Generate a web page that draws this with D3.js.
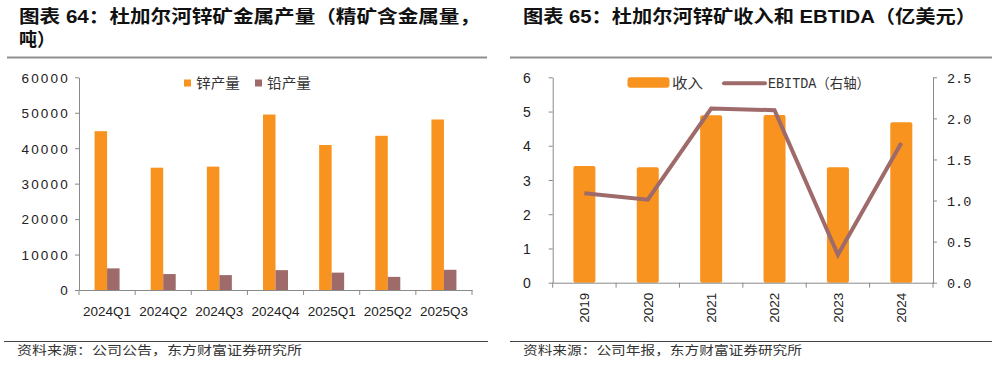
<!DOCTYPE html>
<html><head><meta charset="utf-8">
<script src="https://cdn.jsdelivr.net/npm/d3@7"></script>
<style>
html,body{margin:0;padding:0;background:#fff;}
svg{display:block;}
</style></head>
<body>
<svg id="c" width="997" height="365"></svg>
<script>
// ---------- data ----------
const quarters = ["2024Q1","2024Q2","2024Q3","2024Q4","2025Q1","2025Q2","2025Q3"];
const zincOutput = [44800, 34500, 34800, 49500, 40900, 43500, 48100];
const leadOutput = [6100, 4500, 4200, 5600, 4900, 3700, 5700];
const leftTicks = [0, 10000, 20000, 30000, 40000, 50000, 60000];
const leftSeriesNames = ["锌产量", "铅产量"];

const years = ["2019","2020","2021","2022","2023","2024"];
const revenue = [3.41, 3.37, 4.89, 4.90, 3.37, 4.69];
const ebitda = [1.09, 1.01, 2.12, 2.10, 0.34, 1.70];
const revTicks = [0,1,2,3,4,5,6];
const ebitdaTicks = [0,0.5,1.0,1.5,2.0,2.5];
const rightSeriesNames = ["收入", "EBITDA（右轴）"];

const title1a = "图表 64：杜加尔河锌矿金属产量（精矿含金属量，";
const title1b = "吨）";
const title2 = "图表 65：杜加尔河锌矿收入和 EBTIDA（亿美元）";
const source1 = "资料来源：公司公告，东方财富证券研究所";
const source2 = "资料来源：公司年报，东方财富证券研究所";

// ---------- styles ----------
const ORANGE = "#F7931E";
const BROWN = "#9E6A6A";
const AXIS = "#8a8a8a";
const svg = d3.select("#c");
const latin = "'Liberation Sans', Arial, 'Noto Sans CJK SC', sans-serif";
const cjk = "'Noto Sans CJK SC', sans-serif";

// ---------- titles ----------
function title(x, y, str, len){
  const t = svg.append("text").attr("x", x).attr("y", y).text(str)
    .attr("font-family", latin).attr("font-weight", 700).attr("font-size", 18).attr("fill", "#111");
  if (len) t.attr("textLength", len).attr("lengthAdjust", "spacingAndGlyphs");
}
title(19, 23, title1a, 461);
title(19, 46, title1b, null);
title(523, 23, title2, 453);
svg.append("line").attr("x1", 7).attr("x2", 487).attr("y1", 57.5).attr("y2", 57.5).attr("stroke", "#8f8f8f").attr("stroke-width", 2);
svg.append("line").attr("x1", 510).attr("x2", 992).attr("y1", 57.5).attr("y2", 57.5).attr("stroke", "#8f8f8f").attr("stroke-width", 2);

// footers
svg.append("line").attr("x1", 4).attr("x2", 488).attr("y1", 341.5).attr("y2", 341.5).attr("stroke", "#444").attr("stroke-width", 1);
svg.append("line").attr("x1", 510).attr("x2", 992).attr("y1", 341.5).attr("y2", 341.5).attr("stroke", "#444").attr("stroke-width", 1);
svg.append("text").attr("x", 17).attr("y", 355).text(source1).attr("font-family", cjk).attr("font-size", 12.5)
  .attr("fill", "#333").attr("textLength", 285).attr("lengthAdjust", "spacingAndGlyphs");
svg.append("text").attr("x", 523).attr("y", 355).text(source2).attr("font-family", cjk).attr("font-size", 12.5)
  .attr("fill", "#333").attr("textLength", 279).attr("lengthAdjust", "spacingAndGlyphs");

// ---------- left chart ----------
const L = {x0: 79, x1: 472, y0: 290, y1: 77.3};
const xL = d3.scaleBand().domain(quarters).range([L.x0, L.x1]);
const bwL = xL.bandwidth();
const xLs = d3.scaleBand().domain(["zinc","lead"]).range([bwL/2 - 12.5, bwL/2 + 12.5]);
const yL = d3.scaleLinear().domain([0, 60000]).range([L.y0, L.y1]);

const gL = svg.append("g");
gL.selectAll("rect.zinc").data(quarters).join("rect")
  .attr("x", d => xL(d) + xLs("zinc")).attr("width", xLs.bandwidth())
  .attr("y", (d,i) => yL(zincOutput[i])).attr("height", (d,i) => yL(0) - yL(zincOutput[i]))
  .attr("fill", ORANGE);
gL.selectAll("rect.lead").data(quarters).join("rect")
  .attr("x", d => xL(d) + xLs("lead")).attr("width", xLs.bandwidth())
  .attr("y", (d,i) => yL(leadOutput[i])).attr("height", (d,i) => yL(0) - yL(leadOutput[i]))
  .attr("fill", BROWN);

const yAxisL = gL.append("g").attr("transform", `translate(${L.x0},0)`)
  .call(d3.axisLeft(yL).tickValues(leftTicks).tickSize(4).tickSizeOuter(0).tickFormat(d3.format("d")));
yAxisL.select(".domain").attr("stroke", AXIS);
yAxisL.selectAll(".tick line").attr("stroke", AXIS);
yAxisL.selectAll(".tick text").attr("x", -9).attr("font-family", latin).attr("font-size", 13.5)
  .attr("fill", "#222").attr("letter-spacing", 2.2).attr("dy", "0.36em");

const xAxisL = gL.append("g").attr("transform", `translate(0,${L.y0})`)
  .call(d3.axisBottom(xL).tickSize(0).tickSizeOuter(0));
xAxisL.select(".domain").attr("stroke", AXIS);
xAxisL.selectAll(".tick text").attr("y", 16).attr("font-family", latin).attr("font-size", 13.5).attr("fill", "#222");
// boundary tick marks
gL.selectAll("line.bt").data(quarters.concat(["end"])).join("line")
  .attr("x1", (d,i) => i < quarters.length ? xL(d) : L.x1).attr("x2", (d,i) => i < quarters.length ? xL(d) : L.x1)
  .attr("y1", L.y0).attr("y2", L.y0 + 5).attr("stroke", AXIS);

// left legend
const legL = svg.append("g");
[[184, ORANGE, leftSeriesNames[0]], [255, BROWN, leftSeriesNames[1]]].forEach(([x, c, s]) => {
  legL.append("rect").attr("x", x).attr("y", 79.5).attr("width", 7).attr("height", 7).attr("fill", c);
  legL.append("text").attr("x", x + 12).attr("y", 88).text(s).attr("font-family", cjk).attr("font-size", 14)
    .attr("fill", "#333").attr("textLength", 44).attr("lengthAdjust", "spacingAndGlyphs");
});

// ---------- right chart ----------
const R = {x0: 552.7, x1: 933, y0: 282.7, y1: 77.3};
const xR = d3.scaleBand().domain(years).range([R.x0, R.x1]);
const bwR = xR.bandwidth();
const yR1 = d3.scaleLinear().domain([0, 6]).range([R.y0, R.y1]);
const yR2 = d3.scaleLinear().domain([0, 2.5]).range([R.y0, R.y1]);
const gR = svg.append("g");
const barW = 22;
gR.selectAll("rect.rev").data(years).join("rect")
  .attr("x", d => xR(d) + bwR/2 - barW/2).attr("width", barW)
  .attr("y", (d,i) => yR1(revenue[i])).attr("height", (d,i) => yR1(0) - yR1(revenue[i]))
  .attr("rx", 2).attr("fill", ORANGE);

const yAxisR1 = gR.append("g").attr("transform", `translate(${R.x0},0)`)
  .call(d3.axisLeft(yR1).tickValues(revTicks).tickSize(4).tickSizeOuter(0).tickFormat(d3.format("d")));
yAxisR1.select(".domain").attr("stroke", AXIS);
yAxisR1.selectAll(".tick line").attr("stroke", AXIS);
yAxisR1.selectAll(".tick text").attr("x", -22).attr("font-family", latin).attr("font-size", 14).attr("fill", "#222").attr("dy", "0.36em");

const yAxisR2 = gR.append("g").attr("transform", `translate(${R.x1},0)`)
  .call(d3.axisRight(yR2).tickValues(ebitdaTicks).tickSize(4).tickSizeOuter(0).tickFormat(d3.format(".1f")));
yAxisR2.select(".domain").attr("stroke", AXIS);
yAxisR2.selectAll(".tick line").attr("stroke", AXIS);
yAxisR2.selectAll(".tick text").attr("x", 14).attr("font-family", "'Liberation Mono', 'DejaVu Sans Mono', monospace")
  .attr("font-size", 13.5).attr("fill", "#222").attr("dy", "0.36em");

const xAxisR = gR.append("g").attr("transform", `translate(0,${R.y0})`)
  .call(d3.axisBottom(xR).tickSize(0).tickSizeOuter(0));
xAxisR.select(".domain").attr("stroke", AXIS);
xAxisR.selectAll(".tick text").attr("font-family", latin).attr("font-size", 13.5).attr("fill", "#222")
  .attr("transform", "rotate(-90)").attr("text-anchor", "end").attr("x", -10).attr("y", 0).attr("dy", "0.36em");
gR.selectAll("line.bt").data(years.concat(["end"])).join("line")
  .attr("x1", (d,i) => i < years.length ? xR(d) : R.x1).attr("x2", (d,i) => i < years.length ? xR(d) : R.x1)
  .attr("y1", R.y0).attr("y2", R.y0 + 5).attr("stroke", AXIS);

const line = d3.line().x((d,i) => xR(years[i]) + bwR/2).y(d => yR2(d));
gR.append("path").datum(ebitda).attr("d", line).attr("fill", "none")
  .attr("stroke", BROWN).attr("stroke-width", 4).attr("stroke-linejoin", "miter");

// right legend
const legR = svg.append("g");
legR.append("rect").attr("x", 627.5).attr("y", 77.3).attr("width", 42).attr("height", 10.5).attr("rx", 3).attr("fill", ORANGE);
legR.append("text").attr("x", 672).attr("y", 88).text(rightSeriesNames[0]).attr("font-family", cjk).attr("font-size", 14)
  .attr("fill", "#333").attr("textLength", 31).attr("lengthAdjust", "spacingAndGlyphs");
legR.append("line").attr("x1", 724).attr("x2", 765).attr("y1", 83.3).attr("y2", 83.3).attr("stroke", BROWN).attr("stroke-width", 4).attr("stroke-linecap", "round");
legR.append("text").attr("x", 768).attr("y", 88).text(rightSeriesNames[1])
  .attr("font-family", "'Liberation Mono', 'Noto Sans CJK SC', monospace").attr("font-size", 14)
  .attr("fill", "#333").attr("textLength", 102).attr("lengthAdjust", "spacingAndGlyphs");
</script>
</body></html>
